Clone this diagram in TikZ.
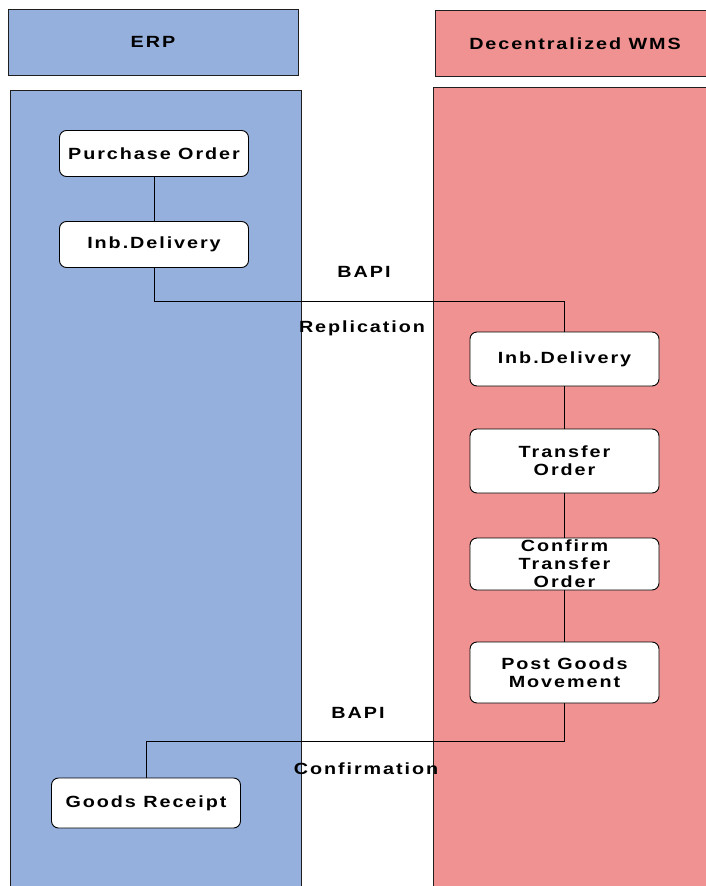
\documentclass[tikz,border=0pt]{standalone}
\usepackage{fontspec}
\setmainfont{Liberation Sans}[FakeStretch=1.22, LetterSpace=12]
\usepackage{tikz}
\usetikzlibrary{positioning}

\definecolor{erpblue}{RGB}{149,176,221}
\definecolor{wmsred}{RGB}{240,146,145}
\definecolor{lanegray}{RGB}{30,30,30}

\tikzset{
  header/.style={draw=lanegray, line width=1pt, minimum height=66pt,
    font=\fontsize{16.2}{18}\selectfont\bfseries},
  stepbox/.style={draw=black, fill=white, rounded corners=7pt, line width=0.9pt,
    minimum width=189pt, minimum height=46pt, align=center, inner sep=1pt,
    font=\fontsize{16.2}{18}\selectfont\bfseries},
  flow/.style={draw=black, line width=0.9pt},
  caption/.style={font=\fontsize{16.2}{18}\selectfont\bfseries}
}

\begin{document}
\begin{tikzpicture}[x=1pt, y=-1pt]
\useasboundingbox (0,0) rectangle (705,886);

%Bahnen
\fill[white] (0,0) rectangle (705,886);
\draw[lanegray, fill=erpblue, line width=1pt] (10,90) rectangle (301,900);
\draw[lanegray, fill=wmsred, line width=1pt] (433,87) rectangle (720,900);

%Kopfzeilen
\node[header, fill=erpblue, minimum width=290pt] (erp) at (153,42) {ERP};
\node[header, fill=wmsred, minimum width=280pt] (wms) at (575,43.5) {Decentralized WMS};

%Schritte ERP
\node[stepbox] (po) at (154,153.5) {Purchase Order};
\node[stepbox] (erpInb) at (154,244.5) {Inb.Delivery};
\node[stepbox, minimum height=50pt] (gr) at (146,803) {Goods Receipt};

%Schritte WMS
\node[stepbox, minimum height=54pt] (wmsInb) at (564.5,359) {Inb.Delivery};
\node[stepbox, minimum height=64pt] (to) at (564.5,461) {Transfer\\Order};
\node[stepbox, minimum height=52pt] (cto) at (564.5,564) {Confirm\\Transfer\\Order};
\node[stepbox, minimum height=61pt] (pgm) at (564.5,672.5) {Post Goods\\Movement};

%Verbindungen
\path[flow] (po) edge (erpInb);
\draw[flow] (erpInb.south) -- ++(0,33) -| (wmsInb.north);
\path[flow] (wmsInb) edge (to)
            (to) edge (cto)
            (cto) edge (pgm);
\draw[flow] (pgm.south) -- ++(0,38) -| (gr.north);

%Beschriftung der Schnittstellen
\node[caption] (bapiIn) at (364,272) {BAPI};
\node[caption] (repl) at (362,328) {Replication};
\node[caption] (bapiOut) at (358,713) {BAPI};
\node[caption] (conf) at (366,769) {Confirmation};
\end{tikzpicture}
\end{document}
